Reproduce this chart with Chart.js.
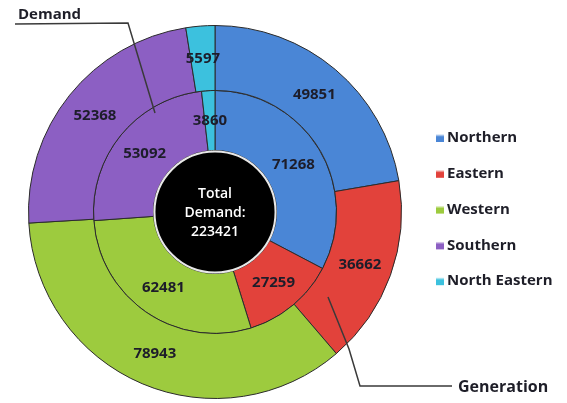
<!DOCTYPE html>
<html>
<head>
<meta charset="utf-8">
<script src="https://cdn.jsdelivr.net/npm/chart.js@4/dist/chart.umd.min.js"></script>
<style>
  html, body { margin: 0; padding: 0; background: #fff; }
  #wrap { position: relative; width: 567px; height: 403px; }
</style>
</head>
<body>
<div id="wrap"><canvas id="chart" width="567" height="403"></canvas></div>
<script>
// regions, clockwise from 12 o'clock
const regions = ['Northern', 'Eastern', 'Western', 'Southern', 'North Eastern'];
const generation = [49851, 36662, 78943, 52368, 5597];   // outer ring
const demand = [71268, 27259, 62481, 53092, 3860];       // inner ring
const totalDemand = 223421;
const regionColors = ['#4a86d6', '#e2423b', '#9dcb3e', '#8c5fc3', '#3cc1de'];

const FONT = '"Open Sans", "Liberation Sans", sans-serif';

// value labels, centre disc, legend and the two callouts
const decor = {
  id: 'decor',
  afterDatasetsDraw(chart) {
    const ctx = chart.ctx;
    ctx.save();
    ctx.textAlign = 'center';
    ctx.textBaseline = 'middle';
    ctx.font = '700 15px ' + FONT;
    ctx.fillStyle = '#1d1d2a';
    chart.data.datasets.forEach((ds, i) => {
      chart.getDatasetMeta(i).data.forEach((arc, j) => {
        const p = arc.tooltipPosition();
        ctx.fillText(ds.data[j], p.x, p.y);
      });
    });

    // black centre with white rim
    const arc0 = chart.getDatasetMeta(1).data[0];
    const cx = arc0.x, cy = arc0.y;
    ctx.beginPath();
    ctx.arc(cx, cy, arc0.innerRadius - 1, 0, Math.PI * 2);
    ctx.fillStyle = '#000';
    ctx.fill();
    ctx.lineWidth = 2;
    ctx.strokeStyle = '#e8e8e8';
    ctx.stroke();
    ctx.fillStyle = '#fff';
    ctx.font = '600 14px ' + FONT;
    ctx.fillText('Total', cx, cy - 18);
    ctx.fillText('Demand:', cx, cy + 1);
    ctx.fillText(String(totalDemand), cx, cy + 20);

    // legend
    ctx.textAlign = 'left';
    ctx.font = '700 15px ' + FONT;
    regions.forEach((name, k) => {
      const y = 138 + k * 35.8;
      const g = ctx.createLinearGradient(0, y - 4, 0, y + 4);
      g.addColorStop(0, '#ffffff');
      g.addColorStop(0.35, regionColors[k]);
      g.addColorStop(1, regionColors[k]);
      ctx.fillStyle = g;
      ctx.fillRect(436, y - 4, 8, 8);
      ctx.fillStyle = '#1e1e28';
      ctx.fillText(name, 447, y);
    });

    // callouts
    ctx.strokeStyle = '#3a3a3a';
    ctx.lineWidth = 1.5;
    ctx.beginPath();
    ctx.moveTo(15, 24);
    ctx.lineTo(128, 23);
    ctx.lineTo(155, 113);
    ctx.stroke();
    ctx.beginPath();
    ctx.moveTo(328, 297);
    ctx.lineTo(349, 349);
    ctx.lineTo(360, 386);
    ctx.lineTo(452, 386);
    ctx.stroke();
    ctx.fillStyle = '#1e1e28';
    ctx.font = '700 15px ' + FONT;
    ctx.fillText('Demand', 18, 15);
    ctx.font = '700 16px ' + FONT;
    ctx.fillText('Generation', 458, 387);
    ctx.restore();
  }
};

new Chart(document.getElementById('chart'), {
  type: 'doughnut',
  data: {
    labels: regions,
    datasets: [
      { label: 'Generation', data: generation, backgroundColor: regionColors,
        borderColor: '#2b2b2b', borderWidth: 1, weight: 13 },
      { label: 'Demand', data: demand, backgroundColor: regionColors,
        borderColor: '#2b2b2b', borderWidth: 1, weight: 12 }
    ]
  },
  options: {
    responsive: false,
    animation: false,
    cutout: '33%',
    layout: { padding: { left: 28, right: 165, top: 25, bottom: 4 } },
    plugins: {
      legend: { display: false },
      tooltip: { enabled: false }
    }
  },
  plugins: [decor]
});
</script>
</body>
</html>
